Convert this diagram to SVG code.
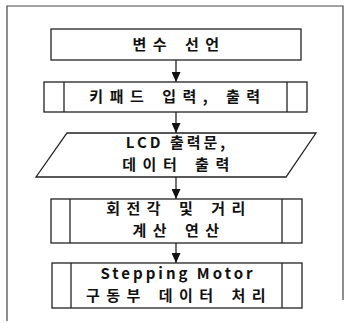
<svg xmlns="http://www.w3.org/2000/svg" width="345" height="323" viewBox="0 0 345 323">
<style>
.shape{fill:#fff;stroke:#222;stroke-width:1.3}
.line{fill:none;stroke:#222;stroke-width:1.3}
.frame{fill:none;stroke:#444;stroke-width:1.2}
text{font-family:"Noto Sans CJK KR","Liberation Sans",sans-serif;font-size:15px;font-weight:bold;fill:#111;text-anchor:middle;letter-spacing:3px}
.k{letter-spacing:6.5px;word-spacing:2px}
</style>
<defs>
<marker id="ah" markerWidth="10" markerHeight="9" refX="10" refY="4.5" orient="auto" markerUnits="userSpaceOnUse">
<path d="M0,0 L10,4.5 L0,9 Z" fill="#111"/>
</marker>
</defs>
<rect width="345" height="323" fill="#fff"/>
<path class="frame" d="M7,321 V6 H343 V300"/>
<g id="connectors">
<line class="line" x1="176" y1="60" x2="176" y2="82" marker-end="url(#ah)"/>
<line class="line" x1="176" y1="112" x2="176" y2="133" marker-end="url(#ah)"/>
<line class="line" x1="176" y1="177" x2="176" y2="199" marker-end="url(#ah)"/>
<line class="line" x1="176" y1="243" x2="176" y2="263" marker-end="url(#ah)"/>
</g>
<g id="n1">
<rect class="shape" x="51" y="29" width="250" height="31"/>
<text class="k" x="179" y="50">변수 선언</text>
</g>
<g id="n2">
<rect class="shape" x="44" y="82" width="263" height="30"/>
<line class="line" x1="64" y1="82" x2="64" y2="112"/>
<line class="line" x1="287" y1="82" x2="287" y2="112"/>
<text class="k" x="178" y="102">키패드 입력, 출력</text>
</g>
<g id="n3">
<polygon class="shape" points="67,133 316,133 286,177 36,177"/>
<text x="177" y="148">LCD 출력문,</text>
<text class="k" x="179" y="170">데이터 출력</text>
</g>
<g id="n4">
<rect class="shape" x="51" y="199" width="251" height="44"/>
<line class="line" x1="70" y1="199" x2="70" y2="243"/>
<line class="line" x1="282" y1="199" x2="282" y2="243"/>
<text class="k" x="179" y="214">회전각 및 거리</text>
<text class="k" x="179" y="236">계산 연산</text>
</g>
<g id="n5">
<rect class="shape" x="52" y="263" width="250" height="45"/>
<line class="line" x1="71" y1="263" x2="71" y2="308"/>
<line class="line" x1="282" y1="263" x2="282" y2="308"/>
<text x="178" y="279">Stepping Motor</text>
<text class="k" x="179" y="301">구동부 데이터 처리</text>
</g>
</svg>
